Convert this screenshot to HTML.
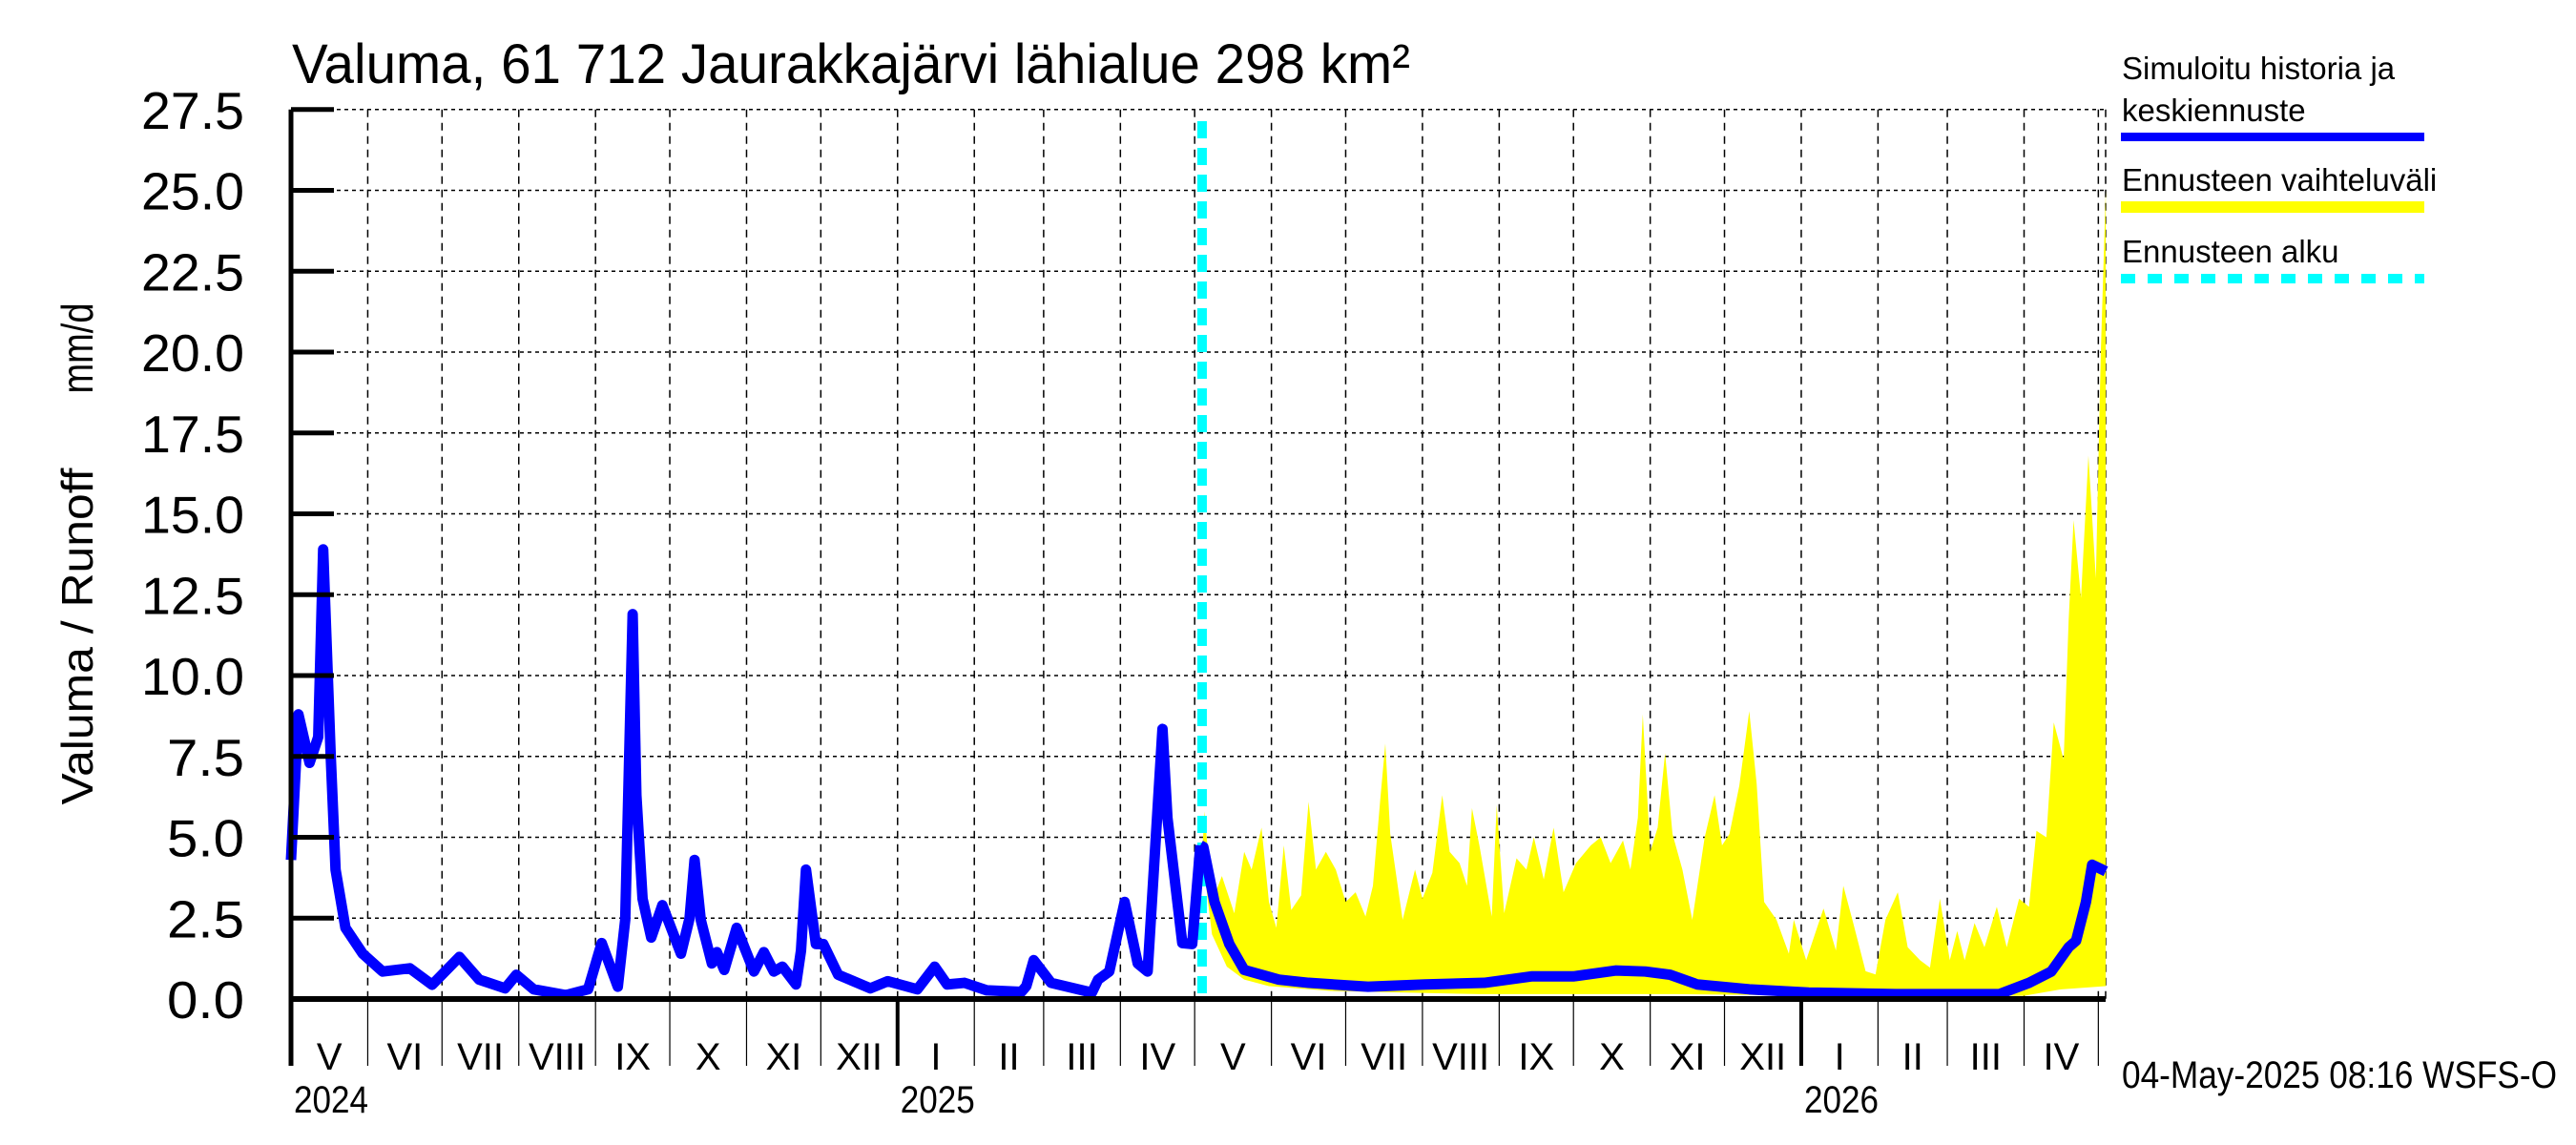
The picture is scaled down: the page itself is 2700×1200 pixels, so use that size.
<!DOCTYPE html>
<html><head><meta charset="utf-8"><style>
html,body{margin:0;padding:0;background:#fff;}
svg{display:block;font-family:"Liberation Sans",sans-serif;}
</style></head><body>
<svg id="chart" width="2700" height="1200" viewBox="0 0 2700 1200" xmlns="http://www.w3.org/2000/svg">
<rect width="2700" height="1200" fill="#fff"/>
<text x="306" y="87" font-size="58" textLength="1172" lengthAdjust="spacingAndGlyphs">Valuma, 61 712 Jaurakkajärvi lähialue 298 km²</text>
<text transform="translate(97,667) rotate(-90)" text-anchor="middle" font-size="46" textLength="353" lengthAdjust="spacingAndGlyphs">Valuma / Runoff</text>
<text transform="translate(97,365) rotate(-90)" text-anchor="middle" font-size="46" textLength="95" lengthAdjust="spacingAndGlyphs">mm/d</text>
<g id="grid"></g>
<g id="band"></g>
<g id="lines"></g>
<g id="axes"></g>
<g id="legend">
 <text x="2224" y="83" font-size="33">Simuloitu historia ja</text>
 <text x="2224" y="127" font-size="33">keskiennuste</text>
 <rect x="2223" y="139" width="318" height="9" fill="#0000ff"/>
 <text x="2224" y="200" font-size="33">Ennusteen vaihteluväli</text>
 <rect x="2223" y="211" width="318" height="12" fill="#ffff00"/>
 <text x="2224" y="275" font-size="33">Ennusteen alku</text>
 <line x1="2223" y1="292" x2="2541" y2="292" stroke="#00ffff" stroke-width="10" stroke-dasharray="15 13"/>
</g>
<text x="2224" y="1140" font-size="40" textLength="456" lengthAdjust="spacingAndGlyphs">04-May-2025 08:16 WSFS-O</text>
</svg>
<script>
const yTicks=[0,2.5,5,7.5,10,12.5,15,17.5,20,22.5,25,27.5];
const yTickLabels=["0.0","2.5","5.0","7.5","10.0","12.5","15.0","17.5","20.0","22.5","25.0","27.5"];
const monthLabels=["V","VI","VII","VIII","IX","X","XI","XII","I","II","III","IV","V","VI","VII","VIII","IX","X","XI","XII","I","II","III","IV"];
const yearLabels=["2024","2025","2026"];
const histDays=[0,3,7.5,11,13,16,18,22,29,37,48,57,68,76,86.5,91,98,111,120,125.5,132,135,138,139.5,142,145.5,150,157.5,161,163,165.5,170,172,175,180,187,191,195,198.5,204,206,208,212,215,221,234,241,253,260,265,272,281,295,297,300,307,323.5,326,330.5,336.7,342,346,352,354,360,364,367.3];
const histVals=[4.3,8.8,7.3,8.1,13.9,7.6,4.0,2.2,1.4,0.85,0.95,0.44,1.3,0.6,0.33,0.75,0.3,0.12,0.3,1.73,0.38,2.45,11.9,6.3,3.1,1.9,2.9,1.4,2.5,4.3,2.45,1.1,1.45,0.9,2.2,0.85,1.45,0.85,1.0,0.45,1.5,4.0,1.7,1.7,0.75,0.33,0.55,0.3,1.0,0.45,0.5,0.27,0.22,0.4,1.2,0.5,0.2,0.6,0.85,3.0,1.1,0.85,8.35,5.6,1.73,1.7,4.75];
const meanDays=[367.3,368.5,373,379,385,399,411,435,458,482,501,518,535,547,557,568,589,613,648,690,702,711,718,721,725,727.5,733];
const meanVals=[4.75,4.7,3.0,1.7,0.9,0.6,0.5,0.38,0.45,0.5,0.7,0.7,0.88,0.85,0.75,0.45,0.3,0.2,0.15,0.15,0.5,0.85,1.6,1.8,3.0,4.15,3.95];
const bandDays=[368,369,372,376,381,385,388,392,395,398,401,404,408,411,414,418,422,426,430,434,437,440,442,444,449,454,457,461,465,468,472,475,477,480,485,487,490,495,499,502,506,510,514,519,525,529,533,538,541,544,546,549,552,555,558,562,566,571,575,578,581,585,589,592,595,600,605,607,612,619,624,627,631,636,640,644,649,653,658,662,666,670,673,676,680,684,689,693,698,702,705,709,712,716,718,720,723,726,729,731,733];
const bandUpper=[4.5,5.8,3.0,3.8,2.65,4.55,4.0,5.3,3.0,2.2,4.75,2.75,3.2,6.1,4.0,4.55,4.0,3.0,3.3,2.55,3.5,6.2,7.9,5.1,2.45,4.0,3.1,3.9,6.3,4.55,4.2,3.5,5.9,4.75,2.55,6.0,2.65,4.35,4.0,5.0,3.7,5.3,3.3,4.2,4.75,5.0,4.2,4.9,4.0,5.6,8.8,4.55,5.3,7.6,5.1,4.0,2.45,5.0,6.3,4.75,5.1,6.6,8.9,6.65,3.0,2.45,1.4,2.45,1.2,2.8,1.5,3.5,2.35,0.86,0.76,2.45,3.3,1.6,1.2,0.97,3.1,1.2,2.1,1.2,2.35,1.6,2.85,1.6,3.1,2.85,5.2,5.0,8.55,7.4,11.7,14.8,12.4,16.8,13.0,20.0,25.0];
const lowerDays=[368,372,378,385,395,420,480,560,620,700,715,733];
const lowerVals=[4.5,2.0,1.0,0.6,0.4,0.25,0.15,0.15,0.1,0.1,0.3,0.4];

const NS="http://www.w3.org/2000/svg";
const X0=305,PXD=2.595,Y0=1047,PXV=33.9,XR=2207,YT=Y0-27.5*PXV;
const start=Date.UTC(2024,4,1);
function xDay(d){return X0+d*PXD;}
function yVal(v){return Y0-v*PXV;}
function mk(tag,attrs,parent){const e=document.createElementNS(NS,tag);for(const k in attrs)e.setAttribute(k,attrs[k]);parent.appendChild(e);return e;}
const grid=document.getElementById('grid'),axes=document.getElementById('axes'),band=document.getElementById('band'),lines=document.getElementById('lines');

const monthStarts=[];
for(let i=0;i<=24;i++){const d=Date.UTC(2024,4+i,1);monthStarts.push((d-start)/86400000);}
for(let i=0;i<monthStarts.length;i++){
  const x=xDay(monthStarts[i]);
  const isYear=(i===8||i===20);
  if(i>0){
    const g=mk('line',{x1:x,y1:YT,x2:x,y2:Y0,stroke:'#000','stroke-width':1.5,'stroke-dasharray':'8 6'},grid);
    
    
  }
  const t=mk('line',{x1:x,y1:Y0,x2:x,y2:1117,stroke:'#000','stroke-width':isYear?4:1.2},axes);
  
  
  if(i<24){
    const cx=(x+xDay(monthStarts[i+1]))/2;
    const lb=mk('text',{x:cx,y:1121,'font-size':40,'text-anchor':'middle'},axes);
    lb.textContent=monthLabels[i];
    
    
  }
}
const re=mk('line',{x1:XR,y1:YT,x2:XR,y2:Y0,stroke:'#000','stroke-width':1.5,'stroke-dasharray':'8 6'},grid);


[0,8,20].forEach((mi,k)=>{
  const yl=mk('text',{x:xDay(monthStarts[mi])+3,y:1166,'font-size':40,textLength:78,lengthAdjust:'spacingAndGlyphs'},axes);
  yl.textContent=yearLabels[k];
  
  
});
yTicks.forEach((v,i)=>{
  const y=yVal(v);
  if(v>0){
    const g=mk('line',{x1:X0,y1:y,x2:XR,y2:y,stroke:'#000','stroke-width':1.5,'stroke-dasharray':'4 4'},grid);
    
    
  }
  const t=mk('line',{x1:X0,y1:y,x2:350,y2:y,stroke:'#000','stroke-width':5},axes);
  
  
  const l=mk('text',{x:256,y:y+20,'font-size':55,'text-anchor':'end',textLength:yTickLabels[i].length>3?108:81,lengthAdjust:'spacingAndGlyphs'},axes);
  l.textContent=yTickLabels[i];
  
  
});
const ya=mk('line',{x1:X0,y1:YT,x2:X0,y2:1117,stroke:'#000','stroke-width':5},axes);


const xa=mk('line',{x1:X0,y1:Y0,x2:XR,y2:Y0,stroke:'#000','stroke-width':6},axes);



let pts=bandDays.map((d,i)=>xDay(d)+','+yVal(bandUpper[i]));
for(let i=lowerDays.length-1;i>=0;i--)pts.push(xDay(lowerDays[i])+','+yVal(lowerVals[i]));
const poly=mk('polygon',{points:pts.join(' '),fill:'#ffff00'},band);



const fs=mk('line',{x1:xDay(368),y1:127,x2:xDay(368),y2:Y0,stroke:'#00ffff','stroke-width':10,'stroke-dasharray':'18 10'},lines);



const hp=mk('polyline',{points:histDays.map((d,i)=>xDay(d)+','+yVal(histVals[i])).join(' '),fill:'none',stroke:'#0000ff','stroke-width':11,'stroke-linejoin':'round'},lines);


const mp=mk('polyline',{points:meanDays.map((d,i)=>xDay(d)+','+yVal(meanVals[i])).join(' '),fill:'none',stroke:'#0000ff','stroke-width':11,'stroke-linejoin':'round'},lines);


</script>
</body></html>
